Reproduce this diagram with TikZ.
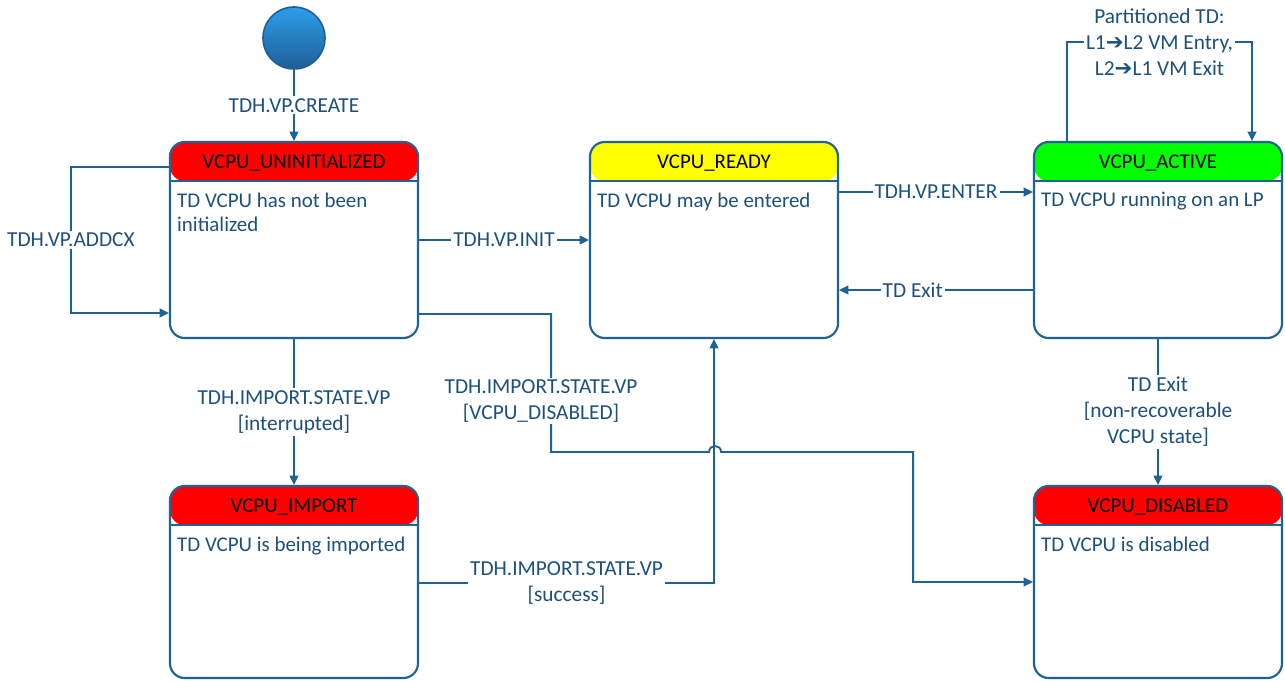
\documentclass[tikz,border=0pt]{standalone}
\usepackage{fontspec}
\setmainfont{Carlito}
\newfontfamily\symf{DejaVu Sans}
\usetikzlibrary{arrows.meta,calc}
\definecolor{ln}{RGB}{31,99,148}
\definecolor{tx}{RGB}{28,80,125}
\definecolor{hred}{RGB}{255,0,0}
\definecolor{hyel}{RGB}{255,255,0}
\definecolor{hgrn}{RGB}{0,255,0}
\definecolor{ctop}{RGB}{44,158,235}
\definecolor{cbot}{RGB}{30,95,150}
\tikzset{
  state/.style={draw=ln, line width=1.6pt, rounded corners=11pt,
    minimum width=186pt, minimum height=147pt, inner sep=0pt,
    path picture={
      \fill[#1] (path picture bounding box.north west) rectangle ([yshift=-29.25pt]path picture bounding box.north east);
      \draw[ln,line width=1.6pt] ([yshift=-29.25pt]path picture bounding box.north west) -- ([yshift=-29.25pt]path picture bounding box.north east);}},
  title/.style={font=\fontsize{15.7}{18}\selectfont, text=black, inner sep=0pt},
  body/.style={anchor=north west, align=left, text=tx, inner sep=0pt, font=\fontsize{15.7}{18}\selectfont},
  lab/.style={fill=white, text=tx, align=center, inner sep=1.5pt, font=\fontsize{16}{19.5}\selectfont},
  arr/.style={draw=ln, line width=1.4pt, -{Triangle[length=7pt,width=6.5pt]}},
  startc/.style={circle, draw=cbot, line width=1.2pt, minimum size=46.5pt, inner sep=0pt, top color=ctop, bottom color=cbot}
}
\begin{document}
\begin{tikzpicture}[x=0.75pt,y=-0.75pt]
\useasboundingbox (0,0) rectangle (1285,681);
\node[startc] (start) at (294,38) {};
\node[state=hred] (uninit) at (294,240) {};
\node[state=hyel] (ready) at (714,240) {};
\node[state=hgrn] (active) at (1158,240) {};
\node[state=hred, minimum height=144pt] (import) at (294,582) {};
\node[state=hred, minimum height=144pt] (disabled) at (1158,582) {};

\node[title] (uninitt) at ([yshift=-17pt]uninit.north) {VCPU\_UNINITIALIZED};
\node[title] (readyt) at ([yshift=-17pt]ready.north) {VCPU\_READY};
\node[title] (activet) at ([yshift=-17pt]active.north) {VCPU\_ACTIVE};
\node[title] (importt) at ([yshift=-17pt]import.north) {VCPU\_IMPORT};
\node[title] (disabledt) at ([yshift=-17pt]disabled.north) {VCPU\_DISABLED};

\node[body] (uninitd) at ([xshift=6pt,yshift=-38.5pt]uninit.north west) {TD VCPU has not been\\initialized};
\node[body] (readyd) at ([xshift=6pt,yshift=-38.5pt]ready.north west) {TD VCPU may be entered};
\node[body] (actived) at ([xshift=6pt,yshift=-38.5pt]active.north west) {TD VCPU running on an LP};
\node[body] (importd) at ([xshift=6pt,yshift=-38.5pt]import.north west) {TD VCPU is being imported};
\node[body] (disabledd) at ([xshift=6pt,yshift=-38.5pt]disabled.north west) {TD VCPU is disabled};

\draw[arr] (start) -- (uninit) node[lab,midway]{TDH.VP.CREATE};
\draw[arr] ([yshift=54.75pt]uninit.west) -- ++(-98,0) -- ++(0,146) node[lab,midway]{TDH.VP.ADDCX} -- ([yshift=-54.75pt]uninit.west);
\draw[arr] (uninit) -- (ready) node[lab,midway]{TDH.VP.INIT};
\draw[arr] ([yshift=36pt]ready.east) -- ([yshift=36pt]active.west) node[lab,midway]{TDH.VP.ENTER};
\draw[arr] ([yshift=-37.5pt]active.west) -- ([yshift=-37.5pt]ready.east) node[lab,pos=0.62]{TD Exit};
\draw[arr] ([xshift=-68.25pt]active.north) -- ++(0,-99) -- ++(185,0) node[lab,midway]{Partitioned TD:\\L1{\symf ➔}L2 VM Entry,\\L2{\symf ➔}L1 VM Exit} -- ([xshift=70.5pt]active.north);
\draw[arr] (active) -- (disabled) node[lab,midway]{TD Exit\\{}[non-recoverable\\VCPU state]};
\draw[arr] (uninit) -- (import) node[lab,midway]{TDH.IMPORT.STATE.VP\\{}[interrupted]};
\draw[arr] ([yshift=-55.5pt]uninit.east) -- ++(132,0) -- ++(0,138) node[lab,pos=0.63,xshift=-7.5pt]{TDH.IMPORT.STATE.VP\\{}[VCPU\_DISABLED]}
  -- ++(158,0) .. controls +(0,-8) and +(0,-8) .. ++(12,0) -- ++(192,0) |- (disabled.west);
\draw[arr] ([yshift=-0.75pt]import.east) -| (ready.south) node[lab,pos=0.25]{TDH.IMPORT.STATE.VP\\{}[success]};
\end{tikzpicture}
\end{document}
